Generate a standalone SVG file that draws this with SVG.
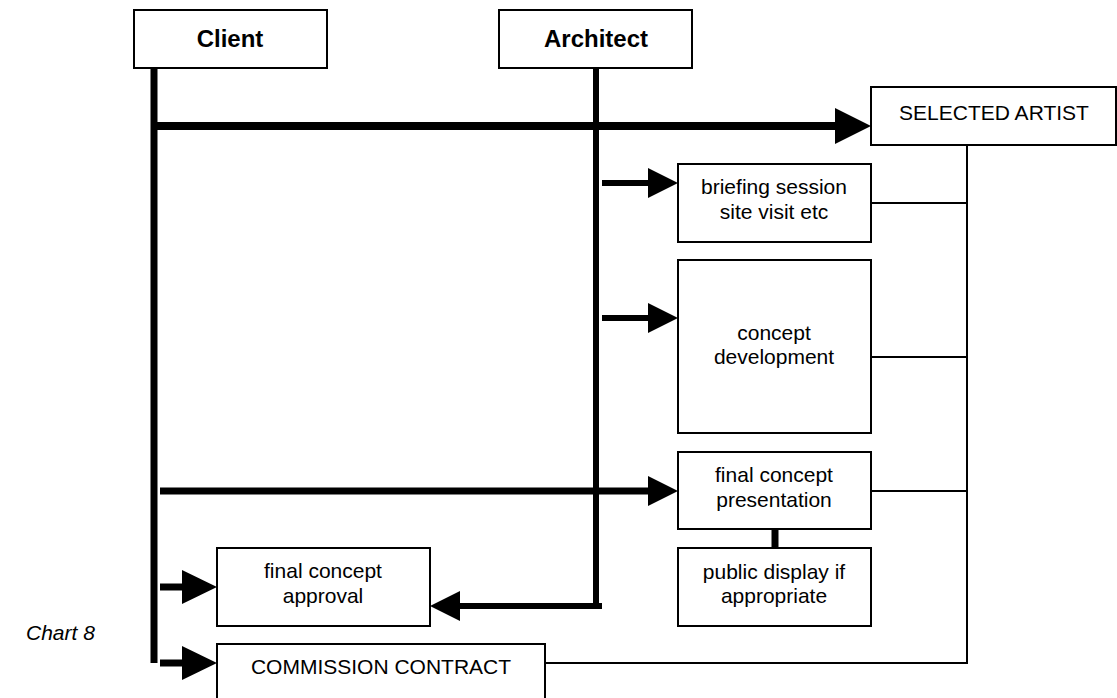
<svg xmlns="http://www.w3.org/2000/svg" width="1117" height="698" viewBox="0 0 1117 698">
<style>
.box{fill:#fff;stroke:#000;stroke-width:2}
.t{font-family:"Liberation Sans",Arial,sans-serif;font-size:21px;fill:#000;text-anchor:middle}
.b{font-weight:bold;font-size:24px}
.thick{stroke:#000;fill:none}
.thin{stroke:#000;stroke-width:2;fill:none}
.head{fill:#000}
</style>
<rect width="1117" height="698" fill="#fff"/>
<g id="connectors">
<line class="thick" x1="154" y1="68" x2="154" y2="663" stroke-width="7"/>
<line class="thick" x1="596" y1="68" x2="596" y2="609" stroke-width="6"/>
<line class="thick" x1="157" y1="126" x2="837" y2="126" stroke-width="8"/>
<polygon class="head" points="835,108 871,126 835,144"/>
<line class="thick" x1="602" y1="183" x2="650" y2="183" stroke-width="6"/>
<polygon class="head" points="648,168 678,183 648,198"/>
<line class="thick" x1="602" y1="318" x2="650" y2="318" stroke-width="6"/>
<polygon class="head" points="648,303 678,318 648,333"/>
<line class="thick" x1="160" y1="491" x2="650" y2="491" stroke-width="7"/>
<polygon class="head" points="648,476 678,491 648,506"/>
<line class="thick" x1="458" y1="606" x2="602" y2="606" stroke-width="6"/>
<polygon class="head" points="460,591 430,606 460,621"/>
<line class="thick" x1="160" y1="587" x2="184" y2="587" stroke-width="7"/>
<polygon class="head" points="182,570 217,587 182,604"/>
<line class="thick" x1="160" y1="663" x2="184" y2="663" stroke-width="7"/>
<polygon class="head" points="182,646 217,663 182,680"/>
<line class="thick" x1="775" y1="529" x2="775" y2="548" stroke-width="7"/>
<line class="thin" x1="967" y1="145" x2="967" y2="664"/>
<line class="thin" x1="871" y1="203" x2="967" y2="203"/>
<line class="thin" x1="871" y1="357" x2="967" y2="357"/>
<line class="thin" x1="871" y1="491" x2="967" y2="491"/>
<line class="thin" x1="545" y1="663" x2="968" y2="663"/>
</g>
<g id="client"><rect class="box" x="134" y="10" width="193" height="58"/><text class="t b" x="230" y="47">Client</text></g>
<g id="architect"><rect class="box" x="499" y="10" width="193" height="58"/><text class="t b" x="596" y="47">Architect</text></g>
<g id="selected-artist"><rect class="box" x="871" y="87" width="245" height="58"/><text class="t" x="994" y="120">SELECTED ARTIST</text></g>
<g id="briefing"><rect class="box" x="678" y="164" width="193" height="78"/><text class="t" x="774" y="194">briefing session</text><text class="t" x="774" y="219">site visit etc</text></g>
<g id="concept"><rect class="box" x="678" y="260" width="193" height="173"/><text class="t" x="774" y="340">concept</text><text class="t" x="774" y="364">development</text></g>
<g id="presentation"><rect class="box" x="678" y="452" width="193" height="77"/><text class="t" x="774" y="482">final concept</text><text class="t" x="774" y="507">presentation</text></g>
<g id="public-display"><rect class="box" x="678" y="548" width="193" height="78"/><text class="t" x="774" y="579">public display if</text><text class="t" x="774" y="603">appropriate</text></g>
<g id="approval"><rect class="box" x="217" y="548" width="213" height="78"/><text class="t" x="323" y="578">final concept</text><text class="t" x="323" y="603">approval</text></g>
<g id="commission"><rect class="box" x="217" y="644" width="328" height="62"/><text class="t" x="381" y="674">COMMISSION CONTRACT</text></g>
<text class="t" x="26" y="640" style="text-anchor:start;font-style:italic">Chart 8</text>
</svg>
